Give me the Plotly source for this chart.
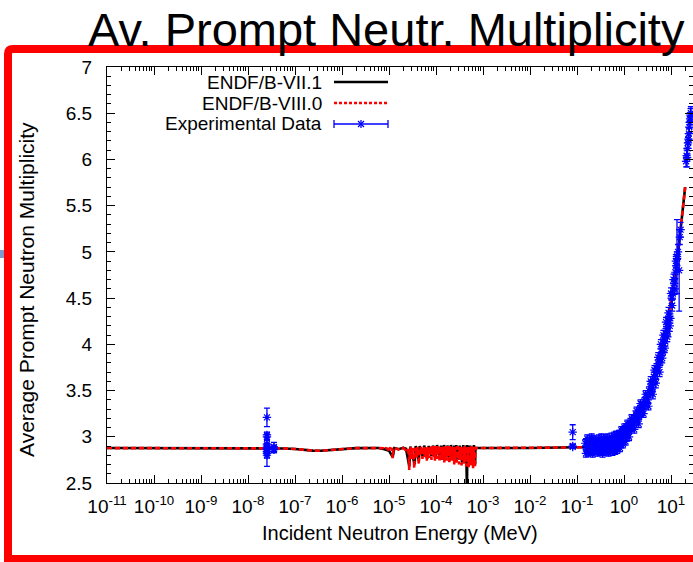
import plotly.graph_objects as go

# ---------------- data ----------------
# ENDF/B-VII.1 (MeV, nu-bar)
E_VII1 = [1e-11, 1e-9, 1e-8, 3e-8, 6e-8, 1e-7, 1.5e-7, 2.4e-7, 3.5e-7, 5e-7, 7e-7, 1e-6, 2e-6, 5e-6,
          6.0e-6, 8.0e-6, 1.0e-5, 1.2e-5, 1.3e-5, 1.6e-5, 2.0e-5, 2.3e-5, 2.7e-5, 2.85e-5, 3.5e-5, 3.7e-5,
          4.3e-5, 4.5e-5, 5.2e-5, 5.6e-5, 6.5e-5, 7.0e-5, 8.0e-5, 8.6e-5, 9.8e-5, 1.05e-4, 1.2e-4, 1.28e-4,
          1.40e-4, 1.48e-4, 1.66e-4, 1.75e-4, 1.97e-4, 2.08e-4, 2.35e-4, 2.46e-4, 2.6e-4, 2.7e-4, 3.05e-4,
          3.2e-4, 3.6e-4, 3.8e-4, 4.2e-4, 4.4e-4, 4.55e-4, 4.65e-4, 5.1e-4, 5.35e-4, 6.1e-4, 6.4e-4, 6.8e-4,
          6.9e-4, 7.5e-4, 1e-2, 0.1, 0.2, 0.5, 1, 2, 3, 5, 6.3, 8, 10, 12, 14, 16, 18, 20]
NU_VII1 = [2.878, 2.878, 2.878, 2.877, 2.874, 2.868, 2.858, 2.850, 2.849, 2.855, 2.865, 2.872, 2.877, 2.878,
           2.878, 2.865, 2.85, 2.78, 2.878, 2.865, 2.88, 2.87, 2.68, 2.895, 2.70, 2.90,
           2.74, 2.90, 2.79, 2.905, 2.76, 2.90, 2.79, 2.905, 2.79, 2.91, 2.77, 2.905,
           2.76, 2.91, 2.78, 2.905, 2.75, 2.91, 2.77, 2.905, 2.73, 2.91, 2.75,
           2.905, 2.72, 2.91, 2.76, 2.905, 2.40, 2.91, 2.72, 2.905, 2.70, 2.91, 2.70,
           2.88, 2.878, 2.879, 2.885, 2.89, 2.93, 3.02, 3.20, 3.38, 3.75, 3.94, 4.17, 4.45, 4.69, 4.97, 5.25, 5.48, 5.70]

# ENDF/B-VIII.0 (MeV, nu-bar)
E_VIII0 = [1e-11, 1e-9, 1e-8, 3e-8, 6e-8, 1e-7, 1.5e-7, 2.4e-7, 3.5e-7, 5e-7, 7e-7, 1e-6, 2e-6, 5e-6,
           6.0e-6, 7.5e-6, 8.0e-6, 8.5e-6, 9.5e-6, 1.0e-5, 1.05e-5, 1.15e-5, 1.2e-5, 1.25e-5, 1.35e-5, 1.45e-5,
           1.6e-5, 1.7e-5, 1.85e-5, 2.0e-5, 2.2e-5, 2.4e-5,
           2.55e-5, 2.6e-5, 2.7e-5, 2.78e-5, 2.85e-5, 2.9e-5, 3.0e-5, 3.1e-5, 3.2e-5, 3.3e-5, 3.45e-5, 3.55e-5,
           3.7e-5, 3.8e-5, 3.9e-5, 4.0e-5, 4.15e-5, 4.3e-5, 4.4e-5, 4.55e-5, 4.7e-5, 4.85e-5, 5.0e-5, 5.15e-5,
           5.3e-5, 5.45e-5, 5.6e-5, 5.75e-5, 5.9e-5, 6.05e-5, 6.2e-5, 6.4e-5, 6.6e-5, 6.8e-5, 7.0e-5, 7.2e-5,
           7.4e-5, 7.6e-5, 7.8e-5, 8.0e-5, 8.25e-5, 8.5e-5, 8.75e-5, 9.0e-5, 9.25e-5, 9.5e-5, 9.8e-5, 1.01e-4,
           1.04e-4, 1.07e-4, 1.10e-4, 1.13e-4, 1.16e-4, 1.19e-4, 1.22e-4, 1.26e-4, 1.30e-4, 1.34e-4, 1.38e-4,
           1.42e-4, 1.46e-4, 1.50e-4, 1.55e-4, 1.60e-4, 1.65e-4, 1.70e-4, 1.75e-4, 1.80e-4, 1.86e-4, 1.92e-4,
           1.98e-4, 2.04e-4, 2.10e-4, 2.17e-4, 2.24e-4, 2.31e-4, 2.38e-4, 2.45e-4, 2.52e-4, 2.60e-4, 2.68e-4,
           2.76e-4, 2.84e-4, 2.92e-4, 3.0e-4, 3.1e-4, 3.2e-4, 3.3e-4, 3.4e-4, 3.5e-4, 3.6e-4, 3.7e-4, 3.8e-4,
           3.92e-4, 4.04e-4, 4.16e-4, 4.28e-4, 4.4e-4, 4.52e-4, 4.65e-4, 4.8e-4, 4.95e-4, 5.1e-4, 5.25e-4,
           5.4e-4, 5.55e-4, 5.7e-4, 5.85e-4, 6.0e-4, 6.15e-4, 6.3e-4, 6.45e-4, 6.6e-4, 6.75e-4, 6.85e-4, 7.5e-4,
           1e-2, 0.1, 0.2, 0.5, 1, 2, 3, 5, 6.3, 8, 10, 12, 14, 16, 18, 20]
NU_VIII0 = [2.878, 2.878, 2.878, 2.877, 2.874, 2.868, 2.858, 2.850, 2.849, 2.855, 2.865, 2.872, 2.877, 2.878,
            2.878, 2.876, 2.86, 2.877, 2.87, 2.84, 2.875, 2.87, 2.77, 2.878, 2.868, 2.872,
            2.862, 2.876, 2.865, 2.88, 2.86, 2.88,
            2.83, 2.87, 2.64, 2.87, 2.80, 2.89, 2.76, 2.88, 2.82, 2.87, 2.66, 2.88,
            2.80, 2.88, 2.78, 2.89, 2.83, 2.70, 2.88, 2.79, 2.89, 2.81, 2.89, 2.76,
            2.88, 2.82, 2.89, 2.78, 2.89, 2.80, 2.89, 2.74, 2.89, 2.79, 2.90, 2.77,
            2.89, 2.81, 2.90, 2.75, 2.89, 2.80, 2.90, 2.78, 2.89, 2.74, 2.90, 2.79,
            2.89, 2.76, 2.90, 2.81, 2.89, 2.73, 2.90, 2.78, 2.89, 2.75, 2.90,
            2.80, 2.89, 2.72, 2.90, 2.78, 2.89, 2.74, 2.90, 2.79, 2.89, 2.71,
            2.90, 2.77, 2.89, 2.73, 2.90, 2.78, 2.89, 2.70, 2.90, 2.75, 2.89,
            2.72, 2.90, 2.77, 2.89, 2.70, 2.90, 2.75, 2.89, 2.69, 2.90, 2.76, 2.89,
            2.71, 2.90, 2.74, 2.89, 2.68, 2.90, 2.73, 2.89, 2.67, 2.90, 2.72,
            2.89, 2.69, 2.90, 2.73, 2.89, 2.66, 2.90, 2.70, 2.89, 2.67, 2.88, 2.878,
            2.879, 2.885, 2.89, 2.93, 3.02, 3.20, 3.38, 3.75, 3.94, 4.17, 4.45, 4.69, 4.97, 5.25, 5.48, 5.70]

# Experimental data (MeV, nu-bar, uncertainty)
E_EXP = [2.53e-8, 2.53e-8, 2.53e-8, 2.53e-8, 2.53e-8, 2.53e-8, 2.53e-8, 2.53e-8, 2.53e-8, 2.53e-8, 2.53e-8,
         3.57e-8, 3.57e-8, 3.57e-8,
         0.081, 0.081, 0.081,
         0.15, 0.16, 0.17, 0.18, 0.19, 0.20, 0.21, 0.22, 0.23, 0.25, 0.26, 0.28, 0.30, 0.32, 0.34, 0.36,
         0.38, 0.40, 0.42, 0.45, 0.48, 0.50, 0.52, 0.55, 0.58, 0.60, 0.63, 0.66, 0.70, 0.73, 0.76, 0.80,
         0.83, 0.86, 0.90, 0.93, 0.96, 1.00, 1.05, 1.10, 1.15, 1.20, 1.25, 1.30, 1.35, 1.40, 1.50, 1.55,
         1.60, 1.70, 1.80, 1.90, 2.00, 2.10, 2.20, 2.30, 2.40, 2.50, 2.70, 2.80, 3.00, 3.20, 3.40, 3.60,
         3.80, 4.00, 4.30, 4.60, 4.90, 5.20, 5.50, 5.90, 6.30, 6.70, 7.10, 7.60, 8.10, 8.60, 9.10, 9.70,
         10.3, 11.0, 11.7, 12.4, 13.0, 13.4, 13.5, 14.1, 14.9, 15.4, 16.0,
         0.155, 0.165, 0.175, 0.185, 0.195, 0.205, 0.215, 0.24, 0.27, 0.29, 0.31, 0.33, 0.35, 0.37, 0.39,
         0.44, 0.47, 0.54, 0.57, 0.62, 0.65, 0.68, 0.72, 0.78, 0.82, 0.88, 0.95, 1.02, 1.08, 1.18, 1.28,
         1.45, 1.65, 1.85, 2.05, 2.25, 2.6, 2.9, 3.3, 3.7, 4.1, 4.45, 4.75, 5.35, 5.7, 6.1, 6.5, 6.9, 7.35,
         7.85, 8.35, 8.85, 9.4, 10.0, 10.6, 11.3, 12.0, 12.7,
         21.0, 21.5, 22.0, 22.5, 23.0, 23.5, 24.0, 24.5, 25.0, 25.5, 26.0, 26.5]
NU_EXP = [3.21, 3.02, 3.00, 2.92, 2.90, 2.88, 2.87, 2.86, 2.84, 2.82, 2.80,
          2.89, 2.87, 2.86,
          3.05, 2.90, 2.89,
          2.93, 2.87, 2.95, 2.86, 2.91, 2.89, 2.84, 2.96, 2.90, 2.87, 2.93, 2.88, 2.95, 2.86, 2.92, 2.88,
          2.96, 2.90, 2.86, 2.94, 2.89, 2.97, 2.85, 2.92, 2.88, 2.95, 2.91, 2.98, 2.93, 2.87, 2.99, 2.95,
          3.02, 2.93, 3.04, 2.98, 3.06, 3.01, 3.08, 3.03, 3.10, 3.05, 3.12, 3.07, 3.14, 3.09, 3.17, 3.12,
          3.20, 3.15, 3.23, 3.19, 3.26, 3.22, 3.30, 3.26, 3.34, 3.30, 3.38, 3.34, 3.43, 3.40, 3.50, 3.47,
          3.57, 3.53, 3.65, 3.62, 3.74, 3.72, 3.83, 3.81, 3.95, 3.92, 4.06, 4.03, 4.17, 4.14, 4.30, 4.28,
          4.50, 4.55, 4.66, 4.78, 4.85, 4.95, 4.93, 5.00, 4.80, 5.16, 5.24,
          2.82, 2.98, 2.83, 2.97, 2.84, 2.99, 2.82, 2.97, 2.83, 2.98, 2.84, 2.99, 2.82, 2.98, 2.84,
          2.99, 2.83, 3.00, 2.84, 3.01, 2.85, 3.02, 2.86, 3.03, 2.88, 3.07, 2.92, 3.10, 2.95, 3.14, 3.00,
          3.20, 3.08, 3.28, 3.14, 3.36, 3.25, 3.46, 3.33, 3.60, 3.46, 3.72, 3.58, 3.86, 3.70, 4.00, 3.85, 4.10, 3.96,
          4.24, 4.08, 4.34, 4.20, 4.55, 4.42, 4.70, 4.60, 4.90,
          5.98, 6.04, 6.02, 6.12, 6.18, 6.22, 6.28, 6.35, 6.40, 6.44, 6.48, 6.50]
ERR_EXP = [0.10, 0.03, 0.03, 0.04, 0.03, 0.02, 0.03, 0.03, 0.04, 0.05, 0.12,
           0.05, 0.04, 0.03,
           0.08, 0.02, 0.01,
           0.04, 0.03, 0.04, 0.03, 0.04, 0.03, 0.04, 0.03, 0.03, 0.04, 0.03, 0.03, 0.04, 0.03, 0.03, 0.03,
           0.04, 0.03, 0.03, 0.03, 0.03, 0.04, 0.03, 0.03, 0.03, 0.03, 0.03, 0.04, 0.03, 0.03, 0.04, 0.03,
           0.04, 0.03, 0.04, 0.03, 0.04, 0.03, 0.04, 0.03, 0.04, 0.03, 0.04, 0.03, 0.04, 0.03, 0.04, 0.03,
           0.04, 0.03, 0.04, 0.03, 0.04, 0.03, 0.04, 0.03, 0.04, 0.03, 0.04, 0.03, 0.04, 0.04, 0.04, 0.04,
           0.04, 0.04, 0.05, 0.04, 0.05, 0.04, 0.05, 0.04, 0.05, 0.04, 0.05, 0.05, 0.05, 0.05, 0.06, 0.05,
           0.06, 0.06, 0.06, 0.07, 0.07, 0.40, 0.07, 0.08, 0.44, 0.08, 0.08,
           0.04, 0.04, 0.04, 0.04, 0.04, 0.04, 0.04, 0.04, 0.04, 0.04, 0.04, 0.04, 0.04, 0.04, 0.04,
           0.04, 0.04, 0.04, 0.04, 0.04, 0.04, 0.04, 0.04, 0.04, 0.04, 0.04, 0.04, 0.04, 0.04, 0.04, 0.04,
           0.04, 0.04, 0.04, 0.04, 0.04, 0.04, 0.04, 0.04, 0.05, 0.05, 0.05, 0.05, 0.05, 0.05, 0.05, 0.05, 0.05, 0.05,
           0.05, 0.05, 0.06, 0.06, 0.06, 0.06, 0.06, 0.06, 0.07,
           0.06, 0.06, 0.10, 0.06, 0.06, 0.06, 0.06, 0.06, 0.06, 0.06, 0.07, 0.07]

X_TICKS = [1e-11, 1e-10, 1e-9, 1e-8, 1e-7, 1e-6, 1e-5, 1e-4, 1e-3, 1e-2, 1e-1, 1e0, 1e1]
X_TICK_TEXT = ["10<sup>-11</sup>", "10<sup>-10</sup>", "10<sup>-9</sup>", "10<sup>-8</sup>",
               "10<sup>-7</sup>", "10<sup>-6</sup>", "10<sup>-5</sup>", "10<sup>-4</sup>",
               "10<sup>-3</sup>", "10<sup>-2</sup>", "10<sup>-1</sup>", "10<sup>0</sup>", "10<sup>1</sup>"]
Y_TICKS = [2.5, 3, 3.5, 4, 4.5, 5, 5.5, 6, 6.5, 7]
Y_TICK_TEXT = ["2.5", "3", "3.5", "4", "4.5", "5", "5.5", "6", "6.5", "7"]
X_MINOR = [m * t for t in X_TICKS for m in range(2, 10)]

LEGEND_NAMES = ["ENDF/B-VII.1", "ENDF/B-VIII.0", "Experimental Data"]
TITLE = "Av. Prompt Neutr. Multiplicity"
X_TITLE = "Incident Neutron Energy (MeV)"
Y_TITLE = "Average Prompt Neutron Multiplicity"

# ---------------- layout geometry (pixels) ----------------
W, H = 693, 562
L, T, R, B = 107, 67, 693, 483
FONT = "Liberation Sans, Arial, Helvetica, sans-serif"


def px(x, y):
    return (x - L) / (R - L), (B - y) / (B - T)


fig = go.Figure()

fig.add_trace(go.Scatter(x=E_VII1, y=NU_VII1, mode="lines", name=LEGEND_NAMES[0],
                         line=dict(color="black", width=2.6), showlegend=False))
fig.add_trace(go.Scatter(x=E_VIII0, y=NU_VIII0, mode="lines", name=LEGEND_NAMES[1],
                         line=dict(color="#ff0000", width=2.6, dash="5px,3px"), showlegend=False))
fig.add_trace(go.Scatter(x=E_EXP, y=NU_EXP, mode="markers", name=LEGEND_NAMES[2],
                         marker=dict(symbol="asterisk-open", size=7, color="#0000ff",
                                     line=dict(color="#0000ff", width=1.2)),
                         error_y=dict(type="data", array=ERR_EXP, visible=True, color="#0000ff",
                                      thickness=1.3, width=3),
                         showlegend=False))

shapes = []
annotations = []

# red slide frame
x0, y0 = px(8, 49)
x1, y1 = px(710, 559)
xr, yr = px(13, 54)
shapes.append(dict(type="path", xref="paper", yref="paper",
                   path=f"M {x0},{y1} L {x0},{yr} Q {x0},{y0} {xr},{y0} L {x1},{y0} L {x1},{y1} Z",
                   line=dict(color="#ff0000", width=8), fillcolor="rgba(0,0,0,0)", layer="above"))
# small slide artefact at left
a0 = px(0, 250)
a1 = px(4, 258)
shapes.append(dict(type="rect", xref="paper", yref="paper", x0=a0[0], y0=a1[1], x1=a1[0], y1=a0[1],
                   line=dict(width=0), fillcolor="#7d9bcf"))

# title
tx, ty = px(386, 58)
annotations.append(dict(text=TITLE, xref="paper", yref="paper", x=tx, y=ty,
                        xanchor="center", yanchor="bottom", showarrow=False,
                        font=dict(family=FONT, size=47, color="black")))
# axis titles
ax, ay = px(400, 533)
annotations.append(dict(text=X_TITLE, xref="paper", yref="paper", x=ax, y=ay,
                        xanchor="center", yanchor="middle", showarrow=False,
                        font=dict(family=FONT, size=20, color="black")))
ax, ay = px(26, 290)
annotations.append(dict(text=Y_TITLE, xref="paper", yref="paper", x=ax, y=ay, textangle=-90,
                        xanchor="center", yanchor="middle", showarrow=False,
                        font=dict(family=FONT, size=21, color="black")))

# legend (gnuplot style: text right-aligned, sample on the right)
rows_y = [82, 103, 124]
for i, name in enumerate(LEGEND_NAMES):
    lx, ly = px(324, rows_y[i])
    annotations.append(dict(text=name, xref="paper", yref="paper", x=lx, y=ly, xanchor="right",
                            yanchor="middle", showarrow=False,
                            font=dict(family=FONT, size=19, color="black")))
s0 = px(334, rows_y[0]); s1 = px(388, rows_y[0])
shapes.append(dict(type="line", xref="paper", yref="paper", x0=s0[0], y0=s0[1], x1=s1[0], y1=s1[1],
                   line=dict(color="black", width=2.6)))
s0 = px(334, rows_y[1]); s1 = px(388, rows_y[1])
shapes.append(dict(type="line", xref="paper", yref="paper", x0=s0[0], y0=s0[1], x1=s1[0], y1=s1[1],
                   line=dict(color="#ff0000", width=2.6, dash="3px,2px")))
s0 = px(334, rows_y[2]); s1 = px(388, rows_y[2])
shapes.append(dict(type="line", xref="paper", yref="paper", x0=s0[0], y0=s0[1], x1=s1[0], y1=s1[1],
                   line=dict(color="#0000ff", width=1.3)))
for cx in (334, 388):
    c0 = px(cx, rows_y[2] - 4); c1 = px(cx, rows_y[2] + 4)
    shapes.append(dict(type="line", xref="paper", yref="paper", x0=c0[0], y0=c0[1], x1=c1[0], y1=c1[1],
                       line=dict(color="#0000ff", width=1.3)))
for dx, dy in ((-3, -3), (-3, 3), (0, -4)):
    c0 = px(361 + dx, rows_y[2] + dy); c1 = px(361 - dx, rows_y[2] - dy)
    shapes.append(dict(type="line", xref="paper", yref="paper", x0=c0[0], y0=c0[1], x1=c1[0], y1=c1[1],
                       line=dict(color="#0000ff", width=1.3)))

fig.update_layout(
    width=W, height=H,
    margin=dict(l=L, r=W - R, t=T, b=H - B, pad=0),
    paper_bgcolor="white", plot_bgcolor="white",
    font=dict(family=FONT, size=18, color="black"),
    showlegend=False,
    shapes=shapes, annotations=annotations,
    xaxis=dict(type="log", range=[-11, -11 + (R - L) / 47.0],
               tickmode="array", tickvals=X_TICKS, ticktext=X_TICK_TEXT,
               ticks="inside", ticklen=8, tickwidth=1, tickcolor="black",
               showline=True, linecolor="black", linewidth=1, mirror="ticks",
               showgrid=False, zeroline=False, ticklabelstandoff=6,
               tickfont=dict(family=FONT, size=19),
               minor=dict(tickvals=X_MINOR, ticks="inside", ticklen=4, tickcolor="black", showgrid=False)),
    yaxis=dict(range=[2.5, 7], tickmode="array", tickvals=Y_TICKS, ticktext=Y_TICK_TEXT,
               ticks="inside", ticklen=8, tickwidth=1, tickcolor="black",
               showline=True, linecolor="black", linewidth=1, mirror="ticks",
               showgrid=False, zeroline=False, ticklabelstandoff=10,
               tickfont=dict(family=FONT, size=19),
               minor=dict(dtick=0.1, ticks="inside", ticklen=4, tickcolor="black", showgrid=False)),
)

fig.write_html("out.html")
